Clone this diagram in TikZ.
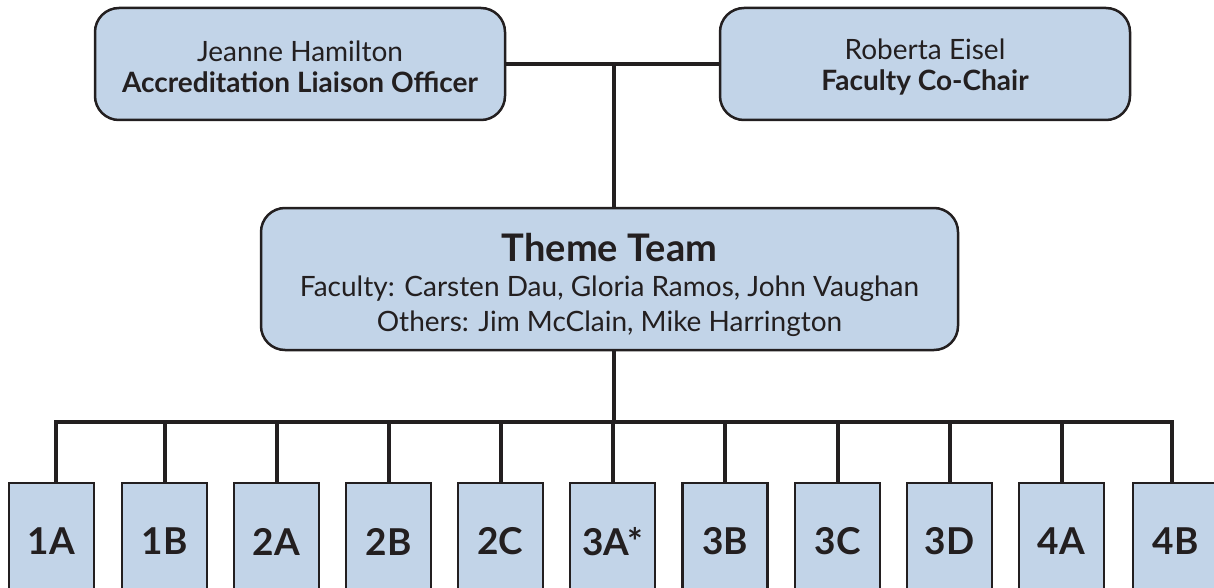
\documentclass[tikz,border=0pt]{standalone}
\usepackage{fontspec}
\setmainfont{Lato}
\usetikzlibrary{calc}
\definecolor{boxblue}{HTML}{C2D4E8}
\definecolor{linec}{HTML}{231F20}
\tikzset{
  topbox/.style={draw=linec, fill=boxblue, line width=2.5pt, rounded corners=24pt,
    minimum width=410pt, minimum height=112pt, inner sep=0pt},
  themebox/.style={topbox, minimum width=697pt, minimum height=142pt},
  boxtext/.style={align=center, inner sep=0pt, text=linec, font=\fontsize{28}{31}\selectfont},
  themetext/.style={boxtext, font=\fontsize{28}{35}\selectfont},
  teambox/.style={draw=linec, fill=boxblue, line width=2.5pt, minimum width=85pt,
    minimum height=117pt, inner sep=0pt, font=\bfseries\fontsize{37}{40}\selectfont, text=linec},
  conn/.style={draw=linec, line width=4pt},
}
\begin{document}
\begin{tikzpicture}[x=1pt,y=-1pt]
\useasboundingbox (0,0) rectangle (1214,588);
\clip (0,0) rectangle (1214,588);
\node[topbox] (jh) at (300,64) {};
\node[boxtext] (jhtext) at ([yshift=-3pt]jh.center) {Jeanne Hamilton\\\textbf{Accreditation Liaison Officer}};
\node[topbox] (re) at (925,64) {};
\node[boxtext] (retext) at ([yshift=-3pt]re.center) {Roberta Eisel\\\textbf{Faculty Co-Chair}};
\node[themebox] (tt) at (609.5,279) {};
\node[themetext] (tttext) at ([yshift=-6pt]tt.center) {{\bfseries\fontsize{38}{38}\selectfont Theme Team}\\[0pt]
  Faculty: Carsten Dau, Gloria Ramos, John Vaughan\\
  Others: Jim McClain, Mike Harrington};
\draw[conn] (jh.east) -- (re.west);
\coordinate (top) at ([xshift=4pt]tt.north |- jh.east);
\draw[conn] (top) -- ([xshift=4pt]tt.north);
\foreach \n/\x/\t in {b1/51.5/1A, b2/164.5/1B, b3/276.5/2A, b4/388.5/2B, b5/500.5/2C,
  b6/612.5/3A*, b7/725/3B, b8/837.5/3C, b9/949.5/3D, b10/1061.5/4A, b11/1175.5/4B}{
  \node[teambox] (\n) at (\x,541.5) {\t};
}
\coordinate (bus) at ($([xshift=4pt]tt.south)+(0,71)$);
\draw[conn] ([xshift=4pt]tt.south) -- (bus);
\draw[conn] ([xshift=4pt]b1.north) -- ([xshift=4pt]b1.north |- bus) -- ([xshift=-4pt]b11.north |- bus) -- ([xshift=-4pt]b11.north);
\foreach \n in {b2,b3,b4,b5,b6,b7,b8,b9,b10}{
  \draw[conn] (\n.north) -- (\n.north |- bus);
}
\end{tikzpicture}
\end{document}
